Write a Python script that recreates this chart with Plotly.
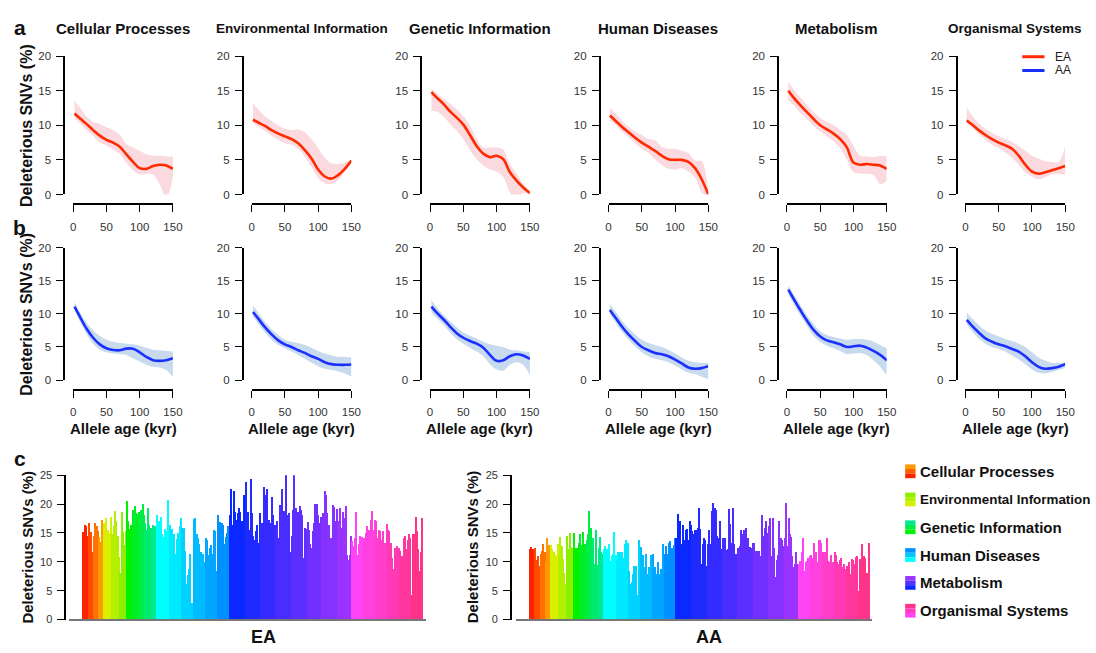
import plotly.graph_objects as go

W, H = 1096, 653
def px(x): return x / W
def py(y): return 1 - y / H

CATEGORIES = ["Cellular Processes", "Environmental Information", "Genetic Information",
              "Human Diseases", "Metabolism", "Organismal Systems"]
AGE = [2, 10, 20, 30, 40, 50, 60, 70, 80, 90, 100, 110, 120, 130, 140, 150]
AGE_TICKS = [0, 50, 100, 150]
LINE_TICKS = [0, 5, 10, 15, 20]
BAR_TICKS = [0, 5, 10, 15, 20, 25]

# ---- panel a (EA): smoothed % deleterious vs allele age, with CI band ----
EA_CP_MID = [11.7, 11.0, 10.2, 9.3, 8.5, 7.9, 7.5, 6.9, 5.8, 4.7, 3.8, 3.7, 4.1, 4.3, 4.2, 3.7]
EA_CP_HI = [13.5, 12.6, 11.3, 10.5, 10.2, 9.7, 9.3, 8.6, 7.3, 6.8, 6.3, 5.8, 5.6, 5.6, 5.5, 5.5]
EA_CP_LO = [11.1, 10.3, 9.3, 8.5, 7.5, 7.1, 6.5, 5.9, 4.6, 3.5, 2.9, 3.0, 2.9, 1.5, -0.5, 2.5]
EA_EI_MID = [10.8, 10.4, 9.9, 9.3, 8.8, 8.4, 8.0, 7.4, 6.4, 5.2, 3.6, 2.6, 2.3, 2.8, 3.7, 4.9]
EA_EI_HI = [13.2, 12.3, 11.3, 10.6, 10.0, 9.5, 9.3, 9.4, 9.0, 8.0, 6.7, 5.3, 4.5, 4.4, 4.6, 5.0]
EA_EI_LO = [10.3, 9.8, 9.2, 8.5, 7.9, 7.4, 7.2, 6.6, 5.5, 4.0, 2.4, 1.6, 1.5, 2.1, 3.3, 4.8]
EA_GI_MID = [14.8, 14.0, 13.1, 12.0, 11.1, 10.1, 8.6, 7.0, 5.9, 5.4, 5.6, 5.1, 3.2, 2.0, 1.0, 0.2]
EA_GI_HI = [15.3, 14.6, 13.9, 13.1, 12.3, 11.3, 10.0, 8.0, 6.8, 6.8, 6.8, 6.5, 4.4, 3.0, 1.6, 0.4]
EA_GI_LO = [12.1, 12.0, 11.3, 10.2, 9.2, 8.0, 6.4, 5.1, 4.2, 3.6, 3.3, 2.5, 0.3, -0.8, 0.2, 0.0]
EA_HD_MID = [11.4, 10.7, 9.8, 9.0, 8.2, 7.5, 6.9, 6.3, 5.6, 5.1, 5.0, 5.0, 4.7, 3.8, 2.2, 0.0]
EA_HD_HI = [12.5, 11.8, 10.7, 9.8, 9.1, 8.6, 8.0, 7.8, 6.9, 6.6, 6.6, 6.3, 6.0, 4.9, 4.8, 0.3]
EA_HD_LO = [10.7, 10.1, 9.1, 8.3, 7.4, 6.6, 6.0, 5.1, 4.3, 3.7, 3.6, 3.8, 3.3, 2.5, 0.3, -0.2]
EA_ME_MID = [15.0, 14.0, 12.9, 11.9, 10.9, 10.0, 9.4, 8.8, 8.0, 6.8, 4.6, 4.3, 4.4, 4.3, 4.2, 3.7]
EA_ME_HI = [16.3, 15.2, 14.0, 12.9, 11.9, 11.0, 10.5, 10.0, 9.3, 8.6, 7.0, 5.6, 5.5, 5.4, 5.6, 5.5]
EA_ME_LO = [13.6, 12.9, 11.8, 10.9, 9.9, 9.1, 8.4, 7.7, 6.7, 5.0, 3.2, 3.0, 3.0, 2.8, 1.5, 2.0]
EA_OS_MID = [10.7, 10.1, 9.3, 8.6, 8.0, 7.5, 7.1, 6.6, 5.6, 4.3, 3.3, 3.0, 3.2, 3.5, 3.8, 4.1]
EA_OS_HI = [12.6, 11.4, 10.3, 9.5, 8.9, 8.4, 8.0, 7.6, 7.0, 6.3, 5.6, 5.2, 4.8, 4.7, 4.7, 7.0]
EA_OS_LO = [10.3, 9.7, 8.7, 7.9, 7.2, 6.7, 6.1, 5.3, 4.3, 3.2, 2.6, 2.2, 2.5, 2.9, 3.0, 2.8]

# ---- panel b (AA) ----
AA_CP_MID = [11.1, 9.6, 7.8, 6.4, 5.4, 4.8, 4.55, 4.5, 4.75, 4.75, 4.2, 3.5, 3.0, 2.9, 3.0, 3.3]
AA_CP_HI = [11.8, 10.3, 8.7, 7.5, 6.7, 6.1, 5.8, 5.6, 5.5, 5.4, 5.2, 4.9, 4.6, 4.5, 4.4, 4.3]
AA_CP_LO = [10.6, 8.9, 7.0, 5.5, 4.6, 4.2, 4.0, 3.9, 3.8, 3.3, 2.8, 2.3, 2.0, 1.9, 1.5, 0.4]
AA_EI_MID = [10.3, 9.3, 8.0, 6.9, 6.0, 5.4, 5.0, 4.5, 4.1, 3.6, 3.2, 2.7, 2.4, 2.3, 2.3, 2.35]
AA_EI_HI = [11.3, 10.2, 8.8, 7.7, 6.8, 6.1, 5.8, 5.6, 5.3, 4.9, 4.4, 4.0, 3.7, 3.5, 3.5, 3.4]
AA_EI_LO = [9.6, 8.5, 7.2, 6.1, 5.3, 4.8, 4.3, 3.8, 3.2, 2.6, 2.1, 1.7, 1.5, 1.3, 1.0, 0.5]
AA_GI_MID = [11.1, 10.2, 9.2, 8.1, 7.1, 6.4, 5.9, 5.5, 4.9, 3.8, 2.9, 3.0, 3.6, 3.9, 3.7, 3.2]
AA_GI_HI = [12.1, 11.0, 9.9, 8.9, 8.0, 7.2, 6.7, 6.3, 5.8, 5.4, 5.2, 5.0, 4.6, 4.5, 4.3, 4.2]
AA_GI_LO = [10.2, 9.4, 8.4, 7.2, 6.2, 5.5, 4.9, 4.3, 3.6, 2.4, 1.6, 1.4, 2.3, 2.7, 2.3, 0.7]
AA_HD_MID = [10.6, 9.5, 8.1, 6.9, 5.9, 5.0, 4.5, 4.1, 3.9, 3.6, 3.1, 2.5, 1.9, 1.7, 1.8, 2.1]
AA_HD_HI = [11.5, 10.4, 9.0, 7.8, 6.9, 6.1, 5.6, 5.3, 5.0, 4.6, 4.0, 3.4, 2.9, 2.7, 2.6, 2.6]
AA_HD_LO = [10.0, 8.8, 7.3, 6.1, 5.1, 4.2, 3.6, 3.2, 3.0, 2.7, 2.2, 1.6, 1.1, 0.9, 0.5, 0.1]
AA_ME_MID = [13.7, 12.3, 10.6, 9.0, 7.6, 6.6, 6.0, 5.7, 5.4, 5.0, 5.1, 5.2, 4.9, 4.4, 3.8, 3.0]
AA_ME_HI = [14.3, 13.0, 11.4, 9.8, 8.5, 7.4, 6.8, 6.5, 6.3, 6.1, 6.2, 6.2, 6.1, 5.8, 5.3, 4.8]
AA_ME_LO = [13.0, 11.5, 9.8, 8.2, 6.7, 5.8, 5.2, 4.8, 4.4, 3.9, 4.0, 4.1, 3.8, 3.0, 2.0, 0.7]
AA_OS_MID = [9.1, 8.2, 7.2, 6.3, 5.8, 5.4, 5.1, 4.7, 4.3, 3.6, 2.7, 2.0, 1.7, 1.8, 2.0, 2.4]
AA_OS_HI = [10.2, 9.3, 8.3, 7.5, 7.0, 6.6, 6.2, 5.9, 5.5, 5.0, 4.2, 3.4, 2.9, 2.6, 2.6, 2.7]
AA_OS_LO = [8.4, 7.4, 6.3, 5.5, 5.0, 4.7, 4.3, 3.7, 3.1, 2.4, 1.6, 1.1, 1.0, 1.2, 1.5, 1.8]

# ---- panel c: % deleterious SNVs per pathway ----
EA_BAR_CP = [15.1, 16.3, 16.1, 14.4, 16.6, 14.0, 15.1, 11.7, 14.4, 16.6, 16.1, 15.3, 14.3, 13.4, 17.2, 16.7]
EA_BAR_EI = [16.7, 17.6, 15.5, 15.4, 15.0, 17.8, 14.7, 16.2, 18.8, 17.0, 14.5, 10.8, 8.0, 18.6, 15.1, 12.8, 15.3]
EA_BAR_GI = [20.5, 17.1, 15.6, 16.3, 13.6, 18.9, 19.6, 18.4, 18.2, 18.6, 18.3, 18.9, 19.9, 18.1, 16.7, 15.5,
             19.2, 16.4, 15.8, 15.5, 16.4, 16.1, 12.9]
EA_BAR_HD = [18.0, 17.0, 15.5, 17.8, 14.7, 14.3, 15.6, 15.3, 20.6, 15.3, 16.3, 15.7, 14.7, 14.7, 11.4, 13.9,
             14.9, 16.2, 17.6, 15.8, 15.9, 11.9, 6.2, 7.7, 8.7, 11.3, 2.8, 2.8, 17.3, 17.5, 14.7, 14.1,
             13.0, 11.6, 10.4, 11.4, 9.9, 14.1, 13.7, 11.2, 12.4, 12.8, 11.3, 15.4, 15.3, 8.3, 18.0, 14.8,
             16.8, 16.7, 16.3, 13.1, 14.2, 15.0, 16.1]
EA_BAR_ME = [18.1, 22.5, 16.4, 22.3, 18.6, 17.2, 18.4, 19.3, 18.6, 17.0, 15.0, 21.6, 23.8, 17.0, 18.6, 15.5,
             24.3, 18.4, 14.5, 13.8, 15.3, 16.3, 13.3, 18.4, 16.7, 16.7, 22.9, 21.5, 22.5, 16.7, 17.2, 16.7,
             21.2, 18.1, 16.4, 15.5, 17.0, 14.1, 19.8, 18.8, 22.6, 18.8, 15.0, 25.2, 18.1, 18.4, 11.6, 14.4,
             18.9, 25.6, 19.2, 18.1, 18.6, 19.7, 18.9, 18.1, 10.7, 15.9, 15.6, 16.8, 15.5, 13.0, 12.4, 15.3,
             16.7, 19.9, 19.9, 18.1, 16.7, 17.8, 16.7, 18.4, 22.3, 21.5, 18.4, 16.4, 12.4, 14.1, 19.8, 19.5,
             17.1, 19.1, 17.0, 13.0, 19.3, 15.9, 18.6, 17.6, 19.7, 11.2, 10.3, 11.2, 14.4]
EA_BAR_OS = [13.6, 12.7, 14.1, 18.6, 11.2, 13.1, 14.4, 14.3, 14.0, 14.1, 15.0, 16.1, 13.8, 15.5, 17.2, 18.8,
             15.5, 17.2, 17.0, 14.1, 15.5, 15.3, 13.8, 15.3, 12.7, 13.3, 16.5, 15.5, 15.3, 13.3, 10.7, 8.7,
             12.4, 12.1, 12.7, 12.4, 11.9, 9.9, 11.0, 14.1, 14.4, 12.2, 13.8, 14.7, 14.1, 4.2, 14.7, 14.8,
             17.8, 15.3, 12.1, 8.4, 11.6, 17.6]

AA_BAR_CP = [12.1, 12.6, 12.2, 10.9, 12.3, 10.2, 10.9, 9.3, 11.4, 11.8, 13.1, 11.6, 10.0, 14.0, 12.9, 11.2]
AA_BAR_EI = [12.9, 12.1, 11.7, 11.4, 11.0, 13.0, 11.0, 14.2, 12.7, 10.4, 8.0, 6.2, 14.4, 12.2, 15.0, 12.5, 12.4]
AA_BAR_GI = [15.0, 12.4, 12.4, 12.4, 13.3, 14.8, 12.9, 15.1, 13.1, 13.0, 13.7, 14.7, 18.8, 15.8, 13.3, 14.1,
             9.5, 15.5, 9.4, 12.4, 14.3, 11.6, 11.4]
AA_BAR_HD = [12.1, 12.7, 12.1, 10.0, 13.1, 10.1, 11.0, 11.4, 15.1, 11.2, 10.1, 11.7, 11.6, 10.7, 11.6, 10.7,
             13.0, 13.7, 13.3, 8.4, 6.2, 6.5, 7.9, 9.3, 9.3, 4.2, 4.0, 13.7, 12.5, 11.2, 11.2, 9.0,
             11.4, 7.9, 9.0, 7.0, 11.2, 11.4, 6.5, 9.0, 7.9, 9.9, 7.9, 8.7, 8.7, 13.0, 11.4, 12.7,
             11.4, 13.3, 13.6, 12.2, 12.4, 12.9, 14.0]
AA_BAR_ME = [14.0, 18.2, 14.7, 17.1, 13.1, 16.3, 13.7, 15.4, 15.7, 13.7, 17.0, 16.3, 15.3, 14.8, 15.4, 15.4,
             15.8, 19.2, 15.7, 9.6, 13.0, 14.0, 13.8, 9.3, 13.1, 15.5, 13.1, 18.8,
             20.1, 19.2, 18.9, 14.4, 14.1, 17.0, 12.1, 14.1, 12.1, 14.1, 12.0, 12.2, 19.1, 16.5, 13.3, 19.3,
             13.0, 11.4, 10.7, 12.4, 12.7, 15.5, 14.7, 15.5, 14.1, 15.9, 14.0, 8.7, 12.6, 12.4, 13.3, 13.3,
             11.9, 11.9, 11.9, 11.9, 11.0, 18.1, 14.4, 15.8, 17.0, 15.0, 16.2, 17.5, 11.0, 17.5, 12.4, 7.3,
             10.3, 11.2, 17.0, 14.1, 13.8, 12.7, 14.1, 20.1, 12.7, 17.6, 14.7, 14.2, 11.0, 9.0, 9.6, 11.7, 9.6]
AA_BAR_OS = [9.6, 10.1, 11.6, 14.0, 8.4, 9.9, 10.1, 10.7, 11.0, 11.2, 10.7, 13.3, 11.6, 11.7, 10.0, 13.8,
             13.8, 13.3, 11.6, 9.9, 11.6, 14.0, 10.1, 9.9, 11.2, 9.9, 9.9, 11.6, 11.2, 9.9, 9.5, 10.3,
             10.7, 9.0, 9.6, 8.7, 9.3, 7.0, 9.9, 7.9, 10.4, 10.3, 9.6, 10.8, 11.0, 4.9, 10.4, 10.4,
             13.0, 11.0, 10.6, 8.0, 8.0, 13.3]

# ---- tables built from the named lists ----
EA_MID = [EA_CP_MID, EA_EI_MID, EA_GI_MID, EA_HD_MID, EA_ME_MID, EA_OS_MID]
EA_HI = [EA_CP_HI, EA_EI_HI, EA_GI_HI, EA_HD_HI, EA_ME_HI, EA_OS_HI]
EA_LO = [EA_CP_LO, EA_EI_LO, EA_GI_LO, EA_HD_LO, EA_ME_LO, EA_OS_LO]
AA_MID = [AA_CP_MID, AA_EI_MID, AA_GI_MID, AA_HD_MID, AA_ME_MID, AA_OS_MID]
AA_HI = [AA_CP_HI, AA_EI_HI, AA_GI_HI, AA_HD_HI, AA_ME_HI, AA_OS_HI]
AA_LO = [AA_CP_LO, AA_EI_LO, AA_GI_LO, AA_HD_LO, AA_ME_LO, AA_OS_LO]
EA_BARS = [EA_BAR_CP, EA_BAR_EI, EA_BAR_GI, EA_BAR_HD, EA_BAR_ME, EA_BAR_OS]
AA_BARS = [AA_BAR_CP, AA_BAR_EI, AA_BAR_GI, AA_BAR_HD, AA_BAR_ME, AA_BAR_OS]

# ---- styles ----
FONT = "Liberation Sans, Arial, sans-serif"
EA_LINE, AA_LINE = "#FF2A00", "#1A30FF"
EA_BAND, AA_BAND = "#FADADE", "#C8DAEE"
CAT_START = ["#FF2200", "#D8F000", "#00F000", "#00FFFF", "#0A28FF", "#FF44F5"]
CAT_END = ["#FF9900", "#8CEE00", "#00E890", "#0090FF", "#9A33FF", "#FF3388"]
CAT_BLOCKS = [4, 3, 5, 6, 8, 6]
TITLE_SIZES = [15, 13.5, 15, 15, 15, 13.5]
LEGEND_SIZES = [15, 13.4, 15, 15, 15, 15]


def hex2rgb(h):
    h = h.lstrip("#")
    return [int(h[i:i + 2], 16) for i in (0, 2, 4)]


def mix(c1, c2, t):
    a, b = hex2rgb(c1), hex2rgb(c2)
    return "rgb(%d,%d,%d)" % tuple(round(a[k] + (b[k] - a[k]) * t) for k in range(3))


def cat_colors(ci, n):
    nb = CAT_BLOCKS[ci]
    out = []
    for i in range(n):
        blk = min(nb - 1, int(i * nb / n))
        out.append(mix(CAT_START[ci], CAT_END[ci], blk / (nb - 1)))
    return out


fig = go.Figure()
layout = dict()
annotations = []
shapes = []

COL_X0 = [71 + 180.6 * c for c in range(6)]
PANEL_W = 101
ROWS = [  # (mid, hi, lo, line color, band color, y top px, y bottom px, x-axis line px)
    (EA_MID, EA_HI, EA_LO, EA_LINE, EA_BAND, 51, 192, 202),
    (AA_MID, AA_HI, AA_LO, AA_LINE, AA_BAND, 246.5, 381, 391),
]

axis_common = dict(showline=True, linecolor="black", linewidth=1.6, ticks="outside", ticklen=7,
                   tickwidth=1.3, tickcolor="black", showgrid=False, zeroline=False,
                   fixedrange=True, tickfont=dict(family=FONT, size=11.5, color="#333"))

n = 0
for r, (mids, his, los, lc, bc, ytop, ybot, xline) in enumerate(ROWS):
    for c in range(6):
        n += 1
        xs = "x" if n == 1 else "x%d" % n
        ys = "y" if n == 1 else "y%d" % n
        x0 = COL_X0[c]
        fig.add_trace(go.Scatter(x=AGE, y=los[c], mode="lines", line=dict(width=0, shape="spline", color=bc),
                                 xaxis=xs, yaxis=ys, hoverinfo="skip", showlegend=False))
        fig.add_trace(go.Scatter(x=AGE, y=his[c], mode="lines", line=dict(width=0, shape="spline", color=bc),
                                 fill="tonexty", fillcolor=bc, xaxis=xs, yaxis=ys, hoverinfo="skip",
                                 showlegend=False))
        fig.add_trace(go.Scatter(x=AGE, y=mids[c], mode="lines",
                                 line=dict(width=2.6, shape="spline", color=lc),
                                 xaxis=xs, yaxis=ys, showlegend=False))
        layout["xaxis" if n == 1 else "xaxis%d" % n] = dict(
            axis_common, domain=[px(x0), px(x0 + PANEL_W)], range=[0, 150], anchor="free",
            position=py(xline), tickvals=AGE_TICKS, ticklabelstandoff=5)
        layout["yaxis" if n == 1 else "yaxis%d" % n] = dict(
            axis_common, domain=[py(ybot), py(ytop)], range=[0, 20], anchor="free",
            position=px(x0 - 9), tickvals=LINE_TICKS, ticklabelstandoff=3)
        if r == 1:
            annotations.append(dict(x=px(x0 + PANEL_W / 2), y=py(430), text="<b>Allele age (kyr)</b>",
                                    font=dict(family=FONT, size=15, color="#111")))
    annotations.append(dict(x=px(24), y=py((ytop + ybot) / 2), text="<b>Deleterious SNVs (%)</b>",
                            textangle=-90, font=dict(family=FONT, size=16, color="#111")))

for c, name in enumerate(CATEGORIES):
    annotations.append(dict(x=px(COL_X0[c] + PANEL_W / 2), y=py(23), text="<b>%s</b>" % name,
                            font=dict(family=FONT, size=TITLE_SIZES[c], color="#111")))

# ---- bar panels ----
BAR_PANELS = [  # (bars, y-axis px, x domain px, first bar left px, label, label x)
    (EA_BARS, 63, (67, 428), 81, "EA", 264),
    (AA_BARS, 514, (519, 879), 532.7, "AA", 714),
]
for bars, yax, (d0, d1), left, lab, labx in BAR_PANELS:
    n += 1
    xs, ys = "x%d" % n, "y%d" % n
    vals, cols = [], []
    for ci, seg in enumerate(bars):
        vals += seg
        cols += cat_colors(ci, len(seg))
    N = len(vals)
    k = 344.3 / N
    r0 = -0.5 - (left - d0) / k
    r1 = r0 + (d1 - d0) / k
    fig.add_trace(go.Bar(x=list(range(N)), y=vals, marker=dict(color=cols, line=dict(width=0)),
                         width=1.0, xaxis=xs, yaxis=ys, showlegend=False))
    layout["xaxis%d" % n] = dict(domain=[px(d0), px(d1)], range=[r0, r1], anchor="free", position=py(625),
                                 showline=True, linecolor="#777", linewidth=2, showticklabels=False,
                                 ticks="", showgrid=False, zeroline=False, fixedrange=True)
    layout["yaxis%d" % n] = dict(axis_common, domain=[py(625), py(478)], range=[0, 25], anchor="free",
                                 position=px(yax), tickvals=BAR_TICKS, ticklabelstandoff=3,
                                 tickfont=dict(family=FONT, size=11, color="#333"))
    annotations.append(dict(x=px(yax - 38), y=py(551), text="<b>Deleterious SNVs (%)</b>", textangle=-90,
                            font=dict(family=FONT, size=15, color="#111")))
    annotations.append(dict(x=px(labx), y=py(643), text="<b>%s</b>" % lab,
                            font=dict(family=FONT, size=18, color="#111")))

# ---- panel letters ----
for letter, ly in (("a", 22), ("b", 226), ("c", 461)):
    annotations.append(dict(x=px(17), y=py(ly), text="<b>%s</b>" % letter,
                            font=dict(family=FONT, size=21, color="#111")))

# ---- legend for a/b ----
for lab, col, ly in (("EA", EA_LINE, 51.7), ("AA", AA_LINE, 65.7)):
    shapes.append(dict(type="line", xref="paper", yref="paper", x0=px(1031.5), x1=px(1054),
                       y0=py(ly), y1=py(ly), line=dict(color=col, width=3)))
    annotations.append(dict(x=px(1063), y=py(ly), text=lab, xanchor="left",
                            font=dict(family=FONT, size=12, color="#222")))

# ---- legend for c ----
LEG_Y = [474, 502.7, 531, 559.3, 587.7, 616]
for ci, name in enumerate(CATEGORIES):
    yc = LEG_Y[ci]
    for s in range(3):
        t = 1 - s / 2
        shapes.append(dict(type="rect", xref="paper", yref="paper", x0=px(913), x1=px(923.5),
                           y0=py(yc - 7 + s * 14 / 3), y1=py(yc - 7 + (s + 1) * 14 / 3),
                           fillcolor=mix(CAT_START[ci], CAT_END[ci], t), line=dict(width=0)))
    annotations.append(dict(x=px(926), y=py(yc), text="<b>%s</b>" % name, xanchor="left",
                            font=dict(family=FONT, size=LEGEND_SIZES[ci], color="#111")))

for a in annotations:
    a.setdefault("xref", "paper")
    a.setdefault("yref", "paper")
    a.setdefault("showarrow", False)
    a.setdefault("xanchor", "center")
    a.setdefault("yanchor", "middle")

fig.update_layout(width=W, height=H, margin=dict(l=0, r=0, t=0, b=0), paper_bgcolor="white",
                  plot_bgcolor="white", showlegend=False, bargap=0, annotations=annotations,
                  shapes=shapes, font=dict(family=FONT), **layout)
fig.write_html("out.html")
